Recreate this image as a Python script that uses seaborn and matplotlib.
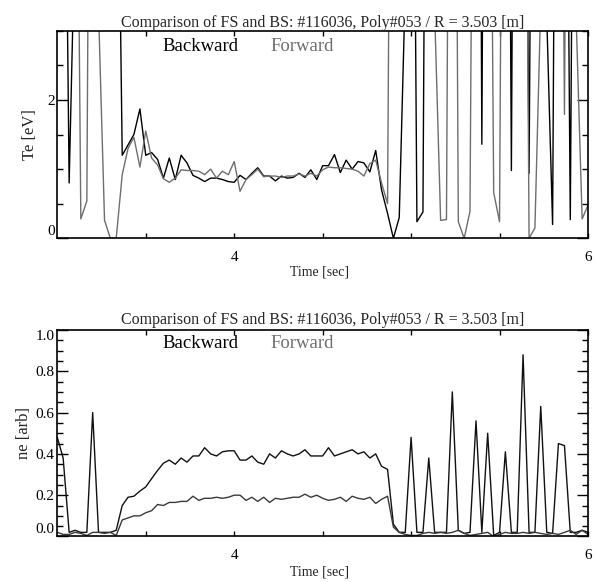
import numpy as np
import pandas as pd
import matplotlib
matplotlib.use("Agg")
import matplotlib.pyplot as plt
import seaborn as sns
from matplotlib.ticker import MultipleLocator

# sample times [sec]
time_sec = [
    3.000, 3.033, 3.067, 3.100, 3.133, 3.167, 3.200, 3.233, 3.267, 3.300,
    3.333, 3.367, 3.400, 3.433, 3.467, 3.500, 3.533, 3.567, 3.600, 3.633,
    3.667, 3.700, 3.733, 3.767, 3.800, 3.833, 3.867, 3.900, 3.933, 3.967,
    4.000, 4.033, 4.067, 4.100, 4.133, 4.167, 4.200, 4.233, 4.267, 4.300,
    4.333, 4.367, 4.400, 4.433, 4.467, 4.500, 4.533, 4.567, 4.600, 4.633,
    4.667, 4.700, 4.733, 4.767, 4.800, 4.833, 4.867, 4.900, 4.933, 4.967,
    5.000, 5.033, 5.067, 5.100, 5.133, 5.167, 5.200, 5.233, 5.267, 5.300,
    5.333, 5.367, 5.400, 5.433, 5.467, 5.500, 5.533, 5.567, 5.600, 5.633,
    5.667, 5.700, 5.733, 5.767, 5.800, 5.833, 5.867, 5.900, 5.933, 5.967,
    6.000,
]

# Te [eV] (values far above 3 are off scale in the plot)
te_backward = [
    6.0, 9.0, 0.80, 4.5, 12, 10, 14, 9, 11, 13,
    8, 1.20, 1.35, 1.50, 1.87, 1.20, 1.24, 1.14, 0.87, 1.16,
    0.85, 1.20, 1.09, 0.91, 0.87, 0.82, 0.87, 0.87, 0.85, 0.82,
    0.81, 0.91, 0.85, 0.94, 1.02, 0.90, 0.90, 0.83, 0.90, 0.87,
    0.88, 0.94, 0.88, 0.99, 0.85, 1.05, 1.05, 1.21, 0.95, 1.13,
    1.00, 1.11, 1.09, 0.96, 1.27, 0.70, 0.36, 0.00, 0.30, 3.6,
    12, 0.24, 0.38, 15, 10, 12, 9, 11, 14, 10,
    13, 20, 1.36, 18, 11, 9, 16, 0.98, 17, 12,
    0.94, 14, 10, 3.2, 0.20, 15, 11, 0.27, 13, 9,
    8,
]
te_forward = [
    8, 11, 7, 10, 0.28, 0.54, 15, 3.3, 0.26, 0.00,
    0.00, 0.92, 1.30, 1.46, 1.03, 1.55, 1.16, 1.06, 0.86, 0.81,
    0.87, 0.99, 0.98, 0.98, 0.97, 0.92, 1.00, 0.87, 0.97, 0.92,
    1.11, 0.68, 0.85, 0.92, 1.00, 0.89, 0.90, 0.90, 0.88, 0.90,
    0.90, 0.93, 0.90, 0.94, 0.90, 0.99, 1.03, 1.02, 1.02, 1.01,
    1.00, 0.97, 0.90, 1.08, 1.13, 0.80, 0.50, 14, 10, 12,
    9, 13, 11, 8, 3.3, 0.26, 0.27, 16, 0.24, 0.00,
    0.39, 14, 10, 12, 0.66, 0.24, 15, 11, 9, 13,
    0.00, 0.15, 3.4, 12, 10, 14, 1.79, 16, 3.2, 0.28,
    0.48,
]

# ne [arb]
ne_backward = [
    0.48, 0.38, 0.02, 0.03, 0.02, 0.02, 0.60, 0.02, 0.02, 0.02,
    0.03, 0.15, 0.19, 0.195, 0.22, 0.24, 0.28, 0.32, 0.355, 0.37,
    0.35, 0.38, 0.36, 0.39, 0.39, 0.43, 0.40, 0.39, 0.41, 0.415,
    0.415, 0.37, 0.37, 0.39, 0.36, 0.35, 0.40, 0.38, 0.415, 0.40,
    0.39, 0.40, 0.42, 0.39, 0.39, 0.39, 0.43, 0.39, 0.40, 0.41,
    0.42, 0.40, 0.41, 0.38, 0.40, 0.34, 0.325, 0.06, 0.02, 0.02,
    0.48, 0.02, 0.02, 0.38, 0.02, 0.02, 0.02, 0.70, 0.03, 0.015,
    0.02, 0.56, 0.02, 0.50, 0.005, 0.02, 0.41, 0.02, 0.02, 0.88,
    0.02, 0.02, 0.63, 0.02, 0.015, 0.45, 0.44, 0.02, 0.02, 0.03,
    0.02,
]
ne_forward = [
    0.02, 0.01, 0.01, 0.02, 0.015, 0.005, 0.02, 0.02, 0.015, 0.02,
    0.005, 0.08, 0.09, 0.10, 0.10, 0.115, 0.125, 0.155, 0.15, 0.165,
    0.165, 0.17, 0.17, 0.195, 0.175, 0.185, 0.185, 0.19, 0.185, 0.19,
    0.20, 0.20, 0.175, 0.19, 0.17, 0.19, 0.165, 0.185, 0.18, 0.185,
    0.19, 0.19, 0.205, 0.19, 0.20, 0.185, 0.175, 0.18, 0.19, 0.17,
    0.195, 0.185, 0.18, 0.19, 0.16, 0.18, 0.195, 0.045, 0.02, 0.01,
    0.005, 0.005, 0.015, 0.02, 0.015, 0.02, 0.015, 0.02, 0.03, 0.015,
    0.005, 0.01, 0.015, 0.02, 0.0, 0.01, 0.02, 0.015, 0.015, 0.02,
    0.015, 0.02, 0.015, 0.01, 0.015, 0.01, 0.02, 0.03, 0.01, 0.03,
    0.01,
]

title_text = "Comparison of FS and BS: #116036, Poly#053 / R = 3.503 [m]"
x_ticks = [3.5, 4.0, 4.5, 5.0, 5.5, 6.0]
x_tick_labels = ["", "4", "", "", "", "6"]
te_ticks = [0, 2]
te_tick_labels = ["0", "2"]
ne_ticks = [0.0, 0.2, 0.4, 0.6, 0.8, 1.0]
ne_tick_labels = ["0.0", "0.2", "0.4", "0.6", "0.8", "1.0"]

label_colors = {"Backward": "black", "Forward": "#6e6e6e"}
te_colors = {"Backward": "black", "Forward": "#6e6e6e"}
ne_colors = {"Backward": "#111111", "Forward": "#3a3a3a"}

sns.set_style("ticks")
plt.rcParams['font.family'] = ['Liberation Serif', 'DejaVu Serif']

n = len(time_sec)
te_df = pd.DataFrame({
    "time": time_sec + time_sec,
    "value": te_backward + te_forward,
    "dir": ["Backward"] * n + ["Forward"] * n,
})
ne_df = pd.DataFrame({
    "time": time_sec + time_sec,
    "value": ne_backward + ne_forward,
    "dir": ["Backward"] * n + ["Forward"] * n,
})

fig = plt.figure(figsize=(5.95, 5.82), dpi=100, facecolor='white')
ax1 = fig.add_axes([0.0963, 0.5905, 0.8919, 0.3567])
ax2 = fig.add_axes([0.0963, 0.0782, 0.8919, 0.3548])

panels = [
    (ax1, te_df, te_colors, (0, 3), te_ticks, te_tick_labels, 0.5, "Te [eV]", 3, -0.036, -0.129, 0.922),
    (ax2, ne_df, ne_colors, (0, 1.0), ne_ticks, ne_tick_labels, 0.05, "ne [arb]", 4.5, -0.048, -0.139, 0.935),
]

for ax, df, pal, ylim, yt, ytl, yminor, ylab, tpad, ylx, xly, legy in panels:
    sns.lineplot(data=df, x="time", y="value", hue="dir", palette=pal,
                 estimator=None, sort=False, legend=False, linewidth=1.0, ax=ax)
    ax.set_xlim(3.0, 6.0)
    ax.set_ylim(*ylim)
    ax.set_xticks(x_ticks, labels=x_tick_labels)
    ax.set_yticks(yt, labels=ytl)
    ax.yaxis.set_minor_locator(MultipleLocator(yminor))
    ax.tick_params(axis='both', which='both', direction='in', top=True, right=True,
                   colors='black', labelsize=11)
    ax.tick_params(axis='y', which='major', length=8, width=1.0, pad=2)
    ax.tick_params(axis='y', which='minor', length=4.3, width=1.0)
    ax.tick_params(axis='x', which='major', length=3.6, width=1.0, pad=9)
    ax.get_yticklabels()[0].set_verticalalignment('bottom')
    if ylim[1] == 1.0:
        ax.get_yticklabels()[-1].set_verticalalignment('top')
    for sp in ax.spines.values():
        sp.set_linewidth(1.2)
        sp.set_color('black')
    ax.set_title(title_text, fontsize=11.5, pad=tpad)
    ax.set_xlabel("Time [sec]", fontsize=10)
    ax.set_ylabel(ylab, fontsize=12)
    ax.xaxis.set_label_coords(0.495, xly)
    ax.yaxis.set_label_coords(ylx, 0.5)
    ax.text(0.199, legy, "Backward", transform=ax.transAxes, fontsize=13.5,
            color=label_colors["Backward"], va='center', ha='left')
    ax.text(0.401, legy, "Forward", transform=ax.transAxes, fontsize=13.5,
            color=label_colors["Forward"], va='center', ha='left')

fig.savefig("out.png", dpi=100, facecolor='white')
